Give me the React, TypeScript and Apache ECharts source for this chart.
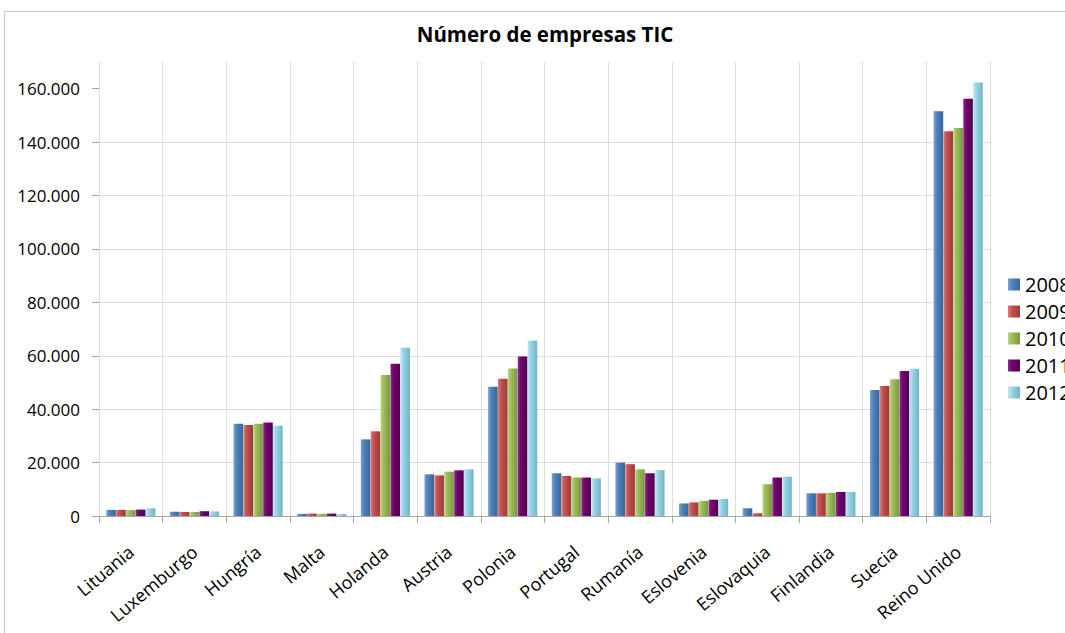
import React, { useEffect, useRef } from "react";
import * as echarts from "echarts";

const categories = ["Lituania", "Luxemburgo", "Hungría", "Malta", "Holanda", "Austria", "Polonia", "Portugal", "Rumanía", "Eslovenia", "Eslovaquia", "Finlandia", "Suecia", "Reino Unido"];
const years = ["2008", "2009", "2010", "2011", "2012"];
const v2008 = [2300, 1600, 34500, 800, 28700, 15600, 48400, 16000, 20000, 4700, 2900, 8500, 47200, 151600];
const v2009 = [2300, 1500, 34100, 900, 31700, 15200, 51400, 15000, 19400, 5100, 1000, 8500, 48700, 144100];
const v2010 = [2200, 1500, 34500, 800, 52800, 16600, 55200, 14400, 17500, 5700, 11900, 8700, 51200, 145300];
const v2011 = [2400, 1800, 35000, 900, 57000, 17100, 59700, 14400, 16000, 6100, 14400, 9000, 54300, 156200];
const v2012 = [2900, 1700, 33800, 800, 63000, 17500, 65700, 14100, 17200, 6400, 14700, 9000, 55100, 162300];
const seriesValues = [v2008, v2009, v2010, v2011, v2012];
const yTicks = [0, 20000, 40000, 60000, 80000, 100000, 120000, 140000, 160000];

const palette = [
  ["#7aa3d6", "#4f81bd", "#3a6596"],
  ["#e07a77", "#c0504d", "#9a3b38"],
  ["#bad57f", "#9bbb59", "#7a9642"],
  ["#8f2a8d", "#6e006c", "#520050"],
  ["#bfe7f2", "#96d3e3", "#72b3c6"],
];

const FONT = "Open Sans";

function fmt(v: number): string {
  return String(v).replace(/\B(?=(\d{3})+(?!\d))/g, ".");
}

export default function App() {
  const ref = useRef<HTMLDivElement>(null);
  useEffect(() => {
    if (!ref.current) return;
    const chart = echarts.init(ref.current, null, { renderer: "svg" });
    const series = years.map((y, i) => ({
      name: y,
      type: "bar",
      data: seriesValues[i],
      barWidth: 9.6,
      barGap: "3%",
      itemStyle: {
        color: new echarts.graphic.LinearGradient(0, 0, 1, 0, [
          { offset: 0, color: palette[i][0] },
          { offset: 0.35, color: palette[i][1] },
          { offset: 1, color: palette[i][2] },
        ]),
      },
    }));
    chart.setOption({
      animation: false,
      backgroundColor: "#ffffff",
      title: {
        text: "Número de empresas TIC",
        left: 540,
        textAlign: "center",
        top: 18,
        textStyle: { fontFamily: FONT, fontSize: 20.5, fontWeight: "bold", color: "#000" },
      },
      graphic: [
        {
          type: "rect",
          shape: { x: 4.5, y: 11.5, width: 1200, height: 800 },
          style: { fill: "none", stroke: "#c6c6c6", lineWidth: 1 },
          silent: true,
        },
      ],
      legend: {
        orient: "vertical",
        left: 1003,
        top: 269,
        itemWidth: 12,
        itemHeight: 12,
        itemGap: 6,
        icon: "rect",
        textStyle: { fontFamily: FONT, fontSize: 20, color: "#000", lineHeight: 21, padding: [0, 0, 0, 0] },
        data: years,
      },
      grid: { left: 99, right: 75, top: 62, bottom: 117, containLabel: false },
      xAxis: {
        type: "category",
        data: categories,
        axisLine: { show: true, lineStyle: { color: "#a6a6a6" } },
        axisTick: { show: true, length: 7, interval: 0, lineStyle: { color: "#a6a6a6" } },
        splitLine: { show: true, interval: 0, lineStyle: { color: "#dcdcdc" } },
        axisLabel: {
          interval: 0,
          rotate: 40,
          margin: 33,
          fontFamily: FONT,
          fontSize: 18,
          color: "#000",
        },
      },
      yAxis: {
        type: "value",
        min: 0,
        max: 170000,
        interval: 20000,
        axisLine: { show: false },
        axisTick: { show: true, length: 7, lineStyle: { color: "#a6a6a6" }, customValues: yTicks },
        splitLine: { show: true, showMaxLine: false, lineStyle: { color: "#dcdcdc" } },
        axisLabel: {
          customValues: yTicks,
          margin: 19,
          fontFamily: FONT,
          fontSize: 17,
          color: "#000",
          formatter: (v: number) => fmt(v),
        },
      },
      series,
    });
    return () => chart.dispose();
  }, []);
  return <div ref={ref} style={{ position: "fixed", left: 0, top: 0, width: 1065, height: 633 }} />;
}
